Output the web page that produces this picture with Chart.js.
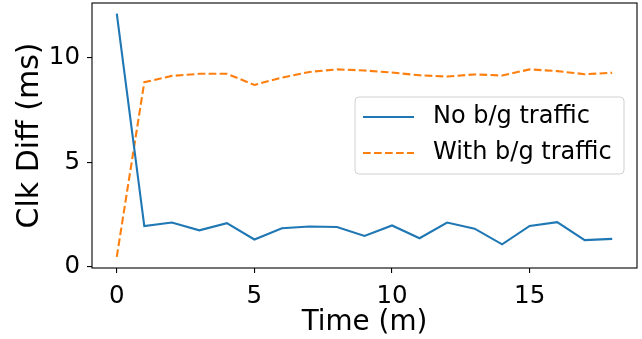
<!DOCTYPE html>
<html>
<head>
<meta charset="utf-8">
<script src="https://cdn.jsdelivr.net/npm/chart.js@4/dist/chart.umd.min.js"></script>
<style>
    html, body { margin: 0; padding: 0; background: #fff; }
    #wrap { width: 642px; height: 339px; }
</style>
</head>
<body>
<div id="wrap"><canvas id="clkChart" width="642" height="339"></canvas></div>
<script>
// Time (minutes)
const times = [0, 1, 2, 3, 4, 5, 6, 7, 8, 9, 10, 11, 12, 13, 14, 15, 16, 17, 18];
// Clock difference (ms)
const noTraffic = [12.09, 1.95, 2.12, 1.75, 2.09, 1.31, 1.85, 1.93, 1.91, 1.48,
                   1.98, 1.37, 2.12, 1.83, 1.08, 1.96, 2.14, 1.28, 1.34];
const withTraffic = [0.48, 8.82, 9.12, 9.22, 9.22, 8.69, 9.04, 9.31, 9.43, 9.38,
                     9.28, 9.15, 9.09, 9.19, 9.14, 9.43, 9.35, 9.20, 9.27];
const seriesLabels = ["No b/g traffic", "With b/g traffic"];
const xTicks = [0, 5, 10, 15];
const yTicks = [0, 5, 10];

const FONT = "'DejaVu Sans', sans-serif";

function toPoints(ys) {
    return times.map((t, i) => ({ x: t, y: ys[i] }));
}

// Box around the plot area (all four spines)
const frame = {
    id: 'frame',
    afterDraw(chart) {
        const a = chart.chartArea;
        const ctx = chart.ctx;
        ctx.save();
        ctx.strokeStyle = '#000';
        ctx.lineWidth = 1.1;
        ctx.strokeRect(a.left, a.top, a.right - a.left, a.bottom - a.top);
        ctx.restore();
    }
};

// Matplotlib-style legend inside the axes
const innerLegend = {
    id: 'innerLegend',
    afterDraw(chart) {
        const a = chart.chartArea;
        const ctx = chart.ctx;
        const w = 269, h = 77;
        const x0 = a.right - 13 - w;
        const y0 = 97;
        ctx.save();
        ctx.beginPath();
        ctx.roundRect(x0, y0, w, h, 4);
        ctx.fillStyle = 'rgba(255,255,255,0.8)';
        ctx.fill();
        ctx.strokeStyle = '#d0d0d0';
        ctx.lineWidth = 1;
        ctx.stroke();
        ctx.font = '24px ' + FONT;
        ctx.textBaseline = 'middle';
        ctx.fillStyle = '#000';
        chart.data.datasets.forEach((ds, i) => {
            const cy = y0 + 20 + i * 36;
            ctx.beginPath();
            ctx.setLineDash(ds.borderDash || []);
            ctx.strokeStyle = ds.borderColor;
            ctx.lineWidth = ds.borderWidth;
            ctx.moveTo(x0 + 8, cy);
            ctx.lineTo(x0 + 59, cy);
            ctx.stroke();
            ctx.setLineDash([]);
            ctx.fillText(ds.label, x0 + 78, cy);
        });
        ctx.restore();
    }
};

const ctx = document.getElementById("clkChart").getContext("2d");
new Chart(ctx, {
    type: 'line',
    data: {
        datasets: [{
            label: seriesLabels[0],
            data: toPoints(noTraffic),
            borderColor: '#1f77b4',
            borderWidth: 2.1,
            pointRadius: 0,
            tension: 0,
            fill: false
        }, {
            label: seriesLabels[1],
            data: toPoints(withTraffic),
            borderColor: '#ff7f0e',
            borderWidth: 2.1,
            borderDash: [7.7, 3.3],
            pointRadius: 0,
            tension: 0,
            fill: false
        }]
    },
    options: {
        responsive: false,
        animation: false,
        events: [],
        layout: { padding: { top: 3, right: 5, left: 0, bottom: 0 } },
        plugins: {
            legend: { display: false },
            tooltip: { enabled: false }
        },
        scales: {
            x: {
                type: 'linear',
                min: -0.9,
                max: 18.9,
                afterBuildTicks: (scale) => { scale.ticks = xTicks.map(v => ({ value: v })); },
                afterFit: (scale) => {
                    scale.height = 71;
                    scale.paddingLeft = 0;
                    scale.paddingRight = 0;
                },
                grid: { display: true, drawOnChartArea: false, drawTicks: true, tickLength: 5, color: '#000', lineWidth: 1.1 },
                border: { display: false },
                ticks: { color: '#000', padding: 9, maxRotation: 0, font: { family: FONT, size: 24.5 } },
                title: {
                    display: true,
                    text: 'Time (m)',
                    color: '#000',
                    padding: { top: -2, bottom: 0 },
                    font: { family: FONT, size: 27.8 }
                }
            },
            y: {
                type: 'linear',
                min: -0.05,
                max: 12.6,
                afterBuildTicks: (scale) => { scale.ticks = yTicks.map(v => ({ value: v })); },
                afterFit: (scale) => {
                    scale.width = 92;
                    scale.paddingTop = 0;
                    scale.paddingBottom = 0;
                },
                grid: { display: true, drawOnChartArea: false, drawTicks: true, tickLength: 5, color: '#000', lineWidth: 1.1 },
                border: { display: false },
                ticks: { color: '#000', padding: 7, font: { family: FONT, size: 24.5 } },
                title: {
                    display: true,
                    text: 'Clk Diff (ms)',
                    color: '#000',
                    padding: { top: 12, bottom: 0 },
                    font: { family: FONT, size: 30 }
                }
            }
        }
    },
    plugins: [frame, innerLegend]
});
</script>
</body>
</html>
